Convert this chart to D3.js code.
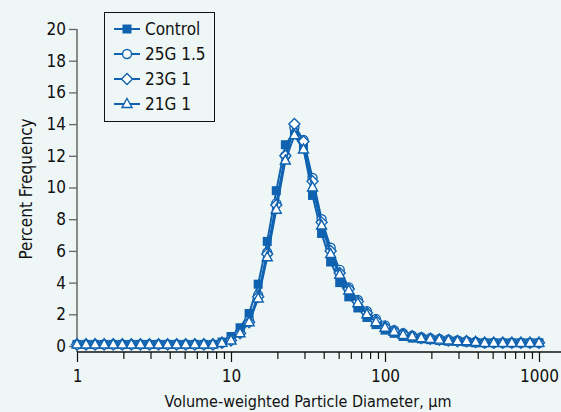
<!DOCTYPE html>
<html><head><meta charset="utf-8">
<script src="https://cdn.jsdelivr.net/npm/d3@7"></script>
<style>
html,body{margin:0;padding:0;background:#eef6f6;}
svg{display:block;}
text{font-family:"Liberation Sans Narrow","Arial Narrow","DejaVu Sans Condensed",sans-serif;fill:#111;}
</style></head>
<body><svg id="chart" width="561" height="412"></svg>
<script>
// Particle diameters (µm), log-spaced bins
const diameters = [1, 1.145, 1.311, 1.501, 1.719, 1.968, 2.254, 2.581, 2.955, 3.384, 3.875, 4.437, 5.081, 5.818, 6.662, 7.628, 8.735,
  10, 11.45, 13.11, 15.01, 17.19, 19.68, 22.54, 25.81, 29.55, 33.84, 38.75, 44.37, 50.81, 58.18, 66.62, 76.28, 87.35,
  100, 114.5, 131.1, 150.1, 171.9, 196.8, 225.4, 258.1, 295.5, 338.4, 387.5, 443.7, 508.1, 581.8, 666.2, 762.8, 873.5, 1000];

const control = [0.1,0.1,0.1,0.1,0.1,0.1,0.1,0.1,0.1,0.1,0.1,0.1,0.1,0.1,0.1,0.1,0.25,
  0.6,1.15,2.05,3.9,6.6,9.8,12.7,13.5,12.5,9.5,7.1,5.3,4.0,3.1,2.4,1.8,1.35,
  1.0,0.8,0.6,0.5,0.45,0.4,0.35,0.3,0.3,0.25,0.2,0.2,0.2,0.2,0.2,0.2,0.2,0.2];
const g25 = [0.1,0.1,0.1,0.1,0.1,0.1,0.1,0.1,0.1,0.1,0.1,0.1,0.1,0.1,0.1,0.1,0.2,
  0.4,0.85,1.6,3.2,5.9,9.0,12.0,13.8,13.0,10.6,8.0,6.2,4.8,3.7,2.9,2.2,1.7,
  1.3,1.0,0.8,0.65,0.55,0.5,0.45,0.4,0.35,0.3,0.25,0.2,0.2,0.2,0.2,0.2,0.2,0.2];
const g23 = [0.1,0.1,0.1,0.1,0.1,0.1,0.1,0.1,0.1,0.1,0.1,0.1,0.1,0.1,0.1,0.1,0.2,
  0.35,0.8,1.5,3.1,5.8,8.9,12.0,14.0,12.9,10.4,7.8,6.0,4.6,3.6,2.8,2.1,1.6,
  1.2,0.95,0.75,0.6,0.5,0.45,0.4,0.35,0.3,0.3,0.25,0.2,0.2,0.2,0.2,0.2,0.2,0.2];
const g21 = [0.1,0.1,0.1,0.1,0.1,0.1,0.1,0.1,0.1,0.1,0.1,0.1,0.1,0.1,0.1,0.1,0.2,
  0.35,0.8,1.5,3.0,5.6,8.6,11.7,13.3,12.4,10.0,7.6,5.8,4.5,3.5,2.7,2.0,1.5,
  1.15,0.9,0.7,0.6,0.5,0.45,0.4,0.35,0.3,0.3,0.25,0.2,0.2,0.2,0.2,0.2,0.2,0.2];

const seriesNames = ["Control", "25G 1.5", "23G 1", "21G 1"];
const seriesValues = [control, g25, g23, g21];
const markerTypes = ["square", "circle", "diamond", "triangle"];
const yTicks = [0,2,4,6,8,10,12,14,16,18,20];
const xTickLabels = [1,10,100,1000];

const blue = "#0f62b0";
const svg = d3.select("#chart");
const x = d3.scaleLog().domain([1,1000]).range([77,539]);
const y = d3.scaleLinear().domain([0,20]).range([346,29]);
const axisY = 352;

// y axis
const yAxis = d3.axisLeft(y).tickValues(yTicks).tickSize(8).tickPadding(3).tickFormat(d3.format("d"));
const gy = svg.append("g").attr("transform","translate(77,0)").call(yAxis);
gy.select(".domain").remove();
gy.selectAll(".tick line").attr("stroke","#666").attr("stroke-width",1.3);
gy.selectAll(".tick text").attr("font-size",17).attr("fill","#111").attr("font-family",null);
svg.append("line").attr("x1",77).attr("x2",77).attr("y1",y(20)).attr("y2",axisY).attr("stroke","#666").attr("stroke-width",1.5);

// x axis
const minorVals = [];
[1,10,100].forEach(b=>{for(let m=2;m<=9;m++) minorVals.push(b*m);});
const gx = svg.append("g").attr("transform",`translate(0,${axisY})`);
gx.call(d3.axisBottom(x).tickValues(minorVals).tickSize(7).tickFormat(""));
gx.call(g=>g.select(".domain").remove());
const gx2 = svg.append("g").attr("transform",`translate(0,${axisY})`)
  .call(d3.axisBottom(x).tickValues(xTickLabels).tickSize(10).tickPadding(8).tickFormat(d3.format("d")));
gx2.select(".domain").remove();
gx2.selectAll(".tick text").attr("font-size",17).attr("fill","#111").attr("font-family",null);
svg.selectAll("g .tick line").filter(function(){return this.parentNode.parentNode!==gy.node();}).attr("stroke","#111").attr("stroke-width",1.2);
svg.append("line").attr("x1",77).attr("x2",561).attr("y1",axisY).attr("y2",axisY).attr("stroke","#111").attr("stroke-width",1.5);

// axis titles
svg.append("text").attr("x",308).attr("y",407).attr("text-anchor","middle").attr("font-size",16)
  .text("Volume-weighted Particle Diameter, μm");
svg.append("text").attr("transform","translate(32,189) rotate(-90)").attr("text-anchor","middle").attr("font-size",17)
  .text("Percent Frequency");

// marker drawing
function drawMarker(g, type, cx, cy){
  if(type==="square"){
    g.append("rect").attr("x",cx-4.5).attr("y",cy-4.5).attr("width",9).attr("height",9).attr("fill",blue);
  } else if(type==="circle"){
    g.append("circle").attr("cx",cx).attr("cy",cy).attr("r",4.5).attr("fill","#fff").attr("stroke",blue).attr("stroke-width",1.4);
  } else if(type==="diamond"){
    g.append("path").attr("d",`M${cx},${cy-5.5}L${cx+5.5},${cy}L${cx},${cy+5.5}L${cx-5.5},${cy}Z`).attr("fill","#fff").attr("stroke",blue).attr("stroke-width",1.4);
  } else {
    g.append("path").attr("d",`M${cx},${cy-5.5}L${cx+5},${cy+3.5}L${cx-5},${cy+3.5}Z`).attr("fill","#fff").attr("stroke",blue).attr("stroke-width",1.4);
  }
}

const line = d3.line().x(d=>x(d[0])).y(d=>y(d[1]));
seriesValues.forEach((vals,i)=>{
  const pts = diameters.map((d,j)=>[d,vals[j]]);
  const g = svg.append("g");
  g.append("path").datum(pts).attr("d",line).attr("fill","none").attr("stroke",blue).attr("stroke-width",2);
  pts.forEach(p=>drawMarker(g, markerTypes[i], x(p[0]), y(p[1])));
});

// legend
const lg = svg.append("g");
lg.append("rect").attr("x",104.5).attr("y",12.5).attr("width",110).attr("height",109).attr("fill","none").attr("stroke","#111").attr("stroke-width",1);
seriesNames.forEach((n,i)=>{
  const ly = 29 + i*25;
  lg.append("line").attr("x1",114).attr("x2",140).attr("y1",ly).attr("y2",ly).attr("stroke",blue).attr("stroke-width",2);
  drawMarker(lg, markerTypes[i], 127, ly);
  lg.append("text").attr("x",145).attr("y",ly+6).attr("font-size",17).text(n);
});
</script></body></html>
